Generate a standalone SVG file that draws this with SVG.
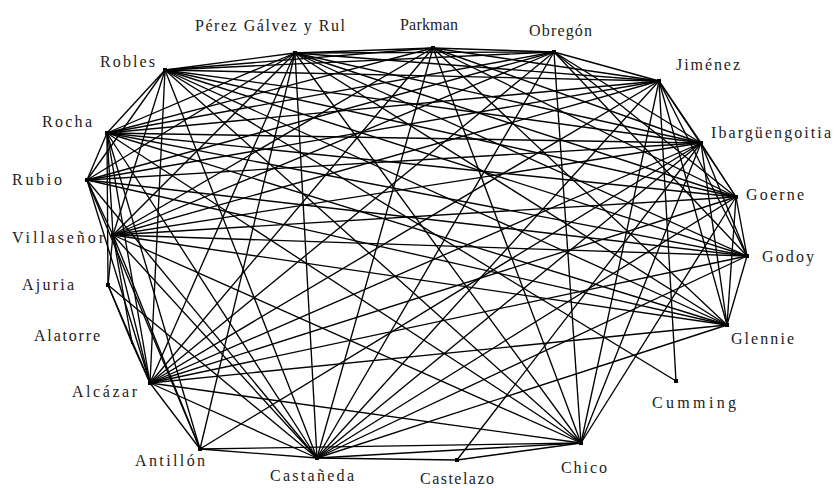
<svg xmlns="http://www.w3.org/2000/svg" width="834" height="488" viewBox="0 0 834 488">
<style>
.e line{stroke:#000;stroke-width:1.35}
.n rect{fill:#000}
.n text{font-family:"Liberation Serif","DejaVu Serif",serif;font-size:16px;fill:#222}
</style>
<rect width="834" height="488" fill="#fff"/>
<g id="connectors" class="e">
<line x1="165" y1="70" x2="295" y2="53"/><line x1="165" y1="70" x2="433" y2="48"/><line x1="165" y1="70" x2="554" y2="52"/><line x1="165" y1="70" x2="659" y2="81"/><line x1="165" y1="70" x2="701" y2="143"/><line x1="165" y1="70" x2="736" y2="197"/><line x1="165" y1="70" x2="747" y2="256"/><line x1="165" y1="70" x2="727" y2="325"/><line x1="165" y1="70" x2="676" y2="381"/><line x1="165" y1="70" x2="581" y2="443"/><line x1="165" y1="70" x2="317" y2="458"/><line x1="165" y1="70" x2="150" y2="383"/><line x1="165" y1="70" x2="113" y2="235"/><line x1="165" y1="70" x2="107" y2="133"/><line x1="165" y1="70" x2="87" y2="180"/>
<line x1="295" y1="53" x2="433" y2="48"/><line x1="295" y1="53" x2="554" y2="52"/><line x1="295" y1="53" x2="659" y2="81"/><line x1="295" y1="53" x2="701" y2="143"/><line x1="295" y1="53" x2="736" y2="197"/><line x1="295" y1="53" x2="747" y2="256"/><line x1="295" y1="53" x2="727" y2="325"/><line x1="295" y1="53" x2="581" y2="443"/><line x1="295" y1="53" x2="317" y2="458"/><line x1="295" y1="53" x2="200" y2="449"/><line x1="295" y1="53" x2="150" y2="383"/><line x1="295" y1="53" x2="113" y2="235"/><line x1="295" y1="53" x2="107" y2="133"/><line x1="295" y1="53" x2="87" y2="180"/>
<line x1="433" y1="48" x2="554" y2="52"/><line x1="433" y1="48" x2="659" y2="81"/><line x1="433" y1="48" x2="701" y2="143"/><line x1="433" y1="48" x2="736" y2="197"/><line x1="433" y1="48" x2="581" y2="443"/><line x1="433" y1="48" x2="317" y2="458"/><line x1="433" y1="48" x2="150" y2="383"/><line x1="433" y1="48" x2="107" y2="133"/><line x1="433" y1="48" x2="113" y2="235"/><line x1="433" y1="48" x2="727" y2="325"/>
<line x1="554" y1="52" x2="659" y2="81"/><line x1="554" y1="52" x2="701" y2="143"/><line x1="554" y1="52" x2="736" y2="197"/><line x1="554" y1="52" x2="747" y2="256"/><line x1="554" y1="52" x2="317" y2="458"/><line x1="554" y1="52" x2="150" y2="383"/><line x1="554" y1="52" x2="107" y2="133"/><line x1="554" y1="52" x2="87" y2="180"/><line x1="554" y1="52" x2="113" y2="235"/><line x1="554" y1="52" x2="581" y2="443"/>
<line x1="659" y1="81" x2="701" y2="143"/><line x1="659" y1="81" x2="736" y2="197"/><line x1="659" y1="81" x2="747" y2="256"/><line x1="659" y1="81" x2="727" y2="325"/><line x1="659" y1="81" x2="676" y2="381"/><line x1="659" y1="81" x2="581" y2="443"/><line x1="659" y1="81" x2="317" y2="458"/><line x1="659" y1="81" x2="150" y2="383"/><line x1="659" y1="81" x2="107" y2="133"/><line x1="659" y1="81" x2="87" y2="180"/><line x1="659" y1="81" x2="113" y2="235"/>
<line x1="701" y1="143" x2="736" y2="197"/><line x1="701" y1="143" x2="747" y2="256"/><line x1="701" y1="143" x2="727" y2="325"/><line x1="701" y1="143" x2="581" y2="443"/><line x1="701" y1="143" x2="317" y2="458"/><line x1="701" y1="143" x2="150" y2="383"/><line x1="701" y1="143" x2="107" y2="133"/><line x1="701" y1="143" x2="87" y2="180"/><line x1="701" y1="143" x2="113" y2="235"/><line x1="701" y1="143" x2="200" y2="449"/><line x1="701" y1="143" x2="457" y2="460"/>
<line x1="736" y1="197" x2="747" y2="256"/><line x1="736" y1="197" x2="727" y2="325"/><line x1="736" y1="197" x2="581" y2="443"/><line x1="736" y1="197" x2="317" y2="458"/><line x1="736" y1="197" x2="107" y2="133"/><line x1="736" y1="197" x2="113" y2="235"/><line x1="736" y1="197" x2="150" y2="383"/>
<line x1="747" y1="256" x2="727" y2="325"/><line x1="747" y1="256" x2="317" y2="458"/><line x1="747" y1="256" x2="107" y2="133"/><line x1="747" y1="256" x2="113" y2="235"/><line x1="747" y1="256" x2="150" y2="383"/><line x1="747" y1="256" x2="87" y2="180"/>
<line x1="727" y1="325" x2="107" y2="133"/><line x1="727" y1="325" x2="113" y2="235"/><line x1="727" y1="325" x2="150" y2="383"/><line x1="727" y1="325" x2="317" y2="458"/><line x1="727" y1="325" x2="87" y2="180"/>
<line x1="581" y1="443" x2="317" y2="458"/><line x1="581" y1="443" x2="457" y2="460"/><line x1="581" y1="443" x2="150" y2="383"/><line x1="581" y1="443" x2="200" y2="449"/><line x1="581" y1="443" x2="113" y2="235"/><line x1="581" y1="443" x2="107" y2="133"/>
<line x1="317" y1="458" x2="200" y2="449"/><line x1="317" y1="458" x2="150" y2="383"/><line x1="317" y1="458" x2="113" y2="235"/><line x1="317" y1="458" x2="107" y2="133"/><line x1="317" y1="458" x2="87" y2="180"/><line x1="317" y1="458" x2="108" y2="285"/><line x1="317" y1="458" x2="457" y2="460"/>
<line x1="150" y1="383" x2="200" y2="449"/><line x1="150" y1="383" x2="108" y2="285"/><line x1="150" y1="383" x2="132" y2="343"/><line x1="150" y1="383" x2="113" y2="235"/><line x1="150" y1="383" x2="107" y2="133"/><line x1="150" y1="383" x2="87" y2="180"/>
<line x1="107" y1="133" x2="87" y2="180"/><line x1="107" y1="133" x2="113" y2="235"/><line x1="107" y1="133" x2="108" y2="285"/><line x1="107" y1="133" x2="200" y2="449"/>
<line x1="87" y1="180" x2="113" y2="235"/><line x1="87" y1="180" x2="200" y2="449"/>
<line x1="113" y1="235" x2="108" y2="285"/><line x1="113" y1="235" x2="200" y2="449"/><line x1="113" y1="235" x2="132" y2="343"/>
<line x1="108" y1="285" x2="132" y2="343"/>
</g>
<g id="perez-galvez" class="n"><rect x="293" y="51" width="4" height="4"/><text x="195" y="31" textLength="150">Pérez Gálvez y Rul</text></g>
<g id="parkman" class="n"><rect x="431" y="46" width="4" height="4"/><text x="400" y="30" textLength="58">Parkman</text></g>
<g id="obregon" class="n"><rect x="552" y="50" width="4" height="4"/><text x="529" y="36" textLength="63">Obregón</text></g>
<g id="jimenez" class="n"><rect x="657" y="79" width="4" height="4"/><text x="676" y="70" textLength="64">Jiménez</text></g>
<g id="ibarguengoitia" class="n"><rect x="699" y="141" width="4" height="4"/><text x="711" y="138" textLength="120">Ibargüengoitia</text></g>
<g id="goerne" class="n"><rect x="734" y="195" width="4" height="4"/><text x="746" y="200" textLength="58">Goerne</text></g>
<g id="godoy" class="n"><rect x="745" y="254" width="4" height="4"/><text x="762" y="262" textLength="52">Godoy</text></g>
<g id="glennie" class="n"><rect x="725" y="323" width="4" height="4"/><text x="731" y="344" textLength="63">Glennie</text></g>
<g id="cumming" class="n"><rect x="674" y="379" width="4" height="4"/><text x="652" y="408" textLength="84">Cumming</text></g>
<g id="chico" class="n"><rect x="579" y="441" width="4" height="4"/><text x="561" y="473" textLength="46">Chico</text></g>
<g id="castelazo" class="n"><rect x="455" y="458" width="4" height="4"/><text x="420" y="484" textLength="74">Castelazo</text></g>
<g id="castaneda" class="n"><rect x="315" y="456" width="4" height="4"/><text x="270" y="481" textLength="84">Castañeda</text></g>
<g id="antillon" class="n"><rect x="198" y="447" width="4" height="4"/><text x="135" y="466" textLength="70">Antillón</text></g>
<g id="alcazar" class="n"><rect x="148" y="381" width="4" height="4"/><text x="72" y="397" textLength="65">Alcázar</text></g>
<g id="alatorre" class="n"><rect x="131" y="342" width="2" height="2"/><text x="34" y="341" textLength="66">Alatorre</text></g>
<g id="ajuria" class="n"><rect x="106" y="283" width="4" height="4"/><text x="22" y="290" textLength="52">Ajuria</text></g>
<g id="villasenor" class="n"><rect x="111" y="233" width="4" height="4"/><text x="12" y="243" textLength="92">Villaseñor</text></g>
<g id="rubio" class="n"><rect x="85" y="178" width="4" height="4"/><text x="12" y="185" textLength="50">Rubio</text></g>
<g id="rocha" class="n"><rect x="105" y="131" width="4" height="4"/><text x="42" y="127" textLength="50">Rocha</text></g>
<g id="robles" class="n"><rect x="163" y="68" width="4" height="4"/><text x="100" y="67" textLength="55">Robles</text></g>
</svg>
